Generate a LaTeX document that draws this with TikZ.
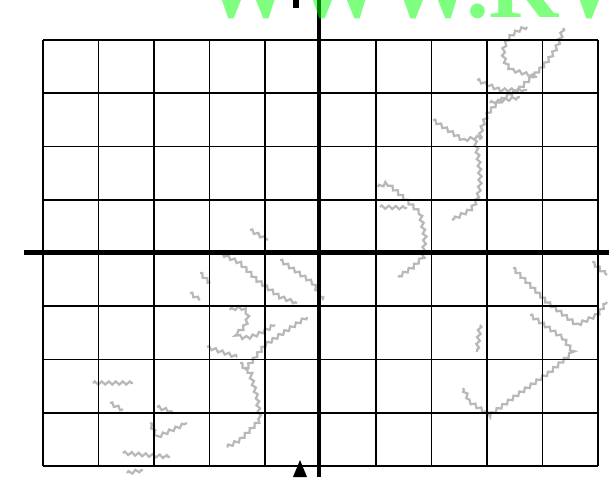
\documentclass[tikz,border=0pt]{standalone}
\usepackage{fontspec}
\newfontfamily\wmfont{Liberation Serif}
\usetikzlibrary{decorations.pathmorphing}
\tikzset{
  gridline/.style={line width=1.8pt, black},
  axisline/.style={line width=4.5pt, black},
  scribble/.style={draw=black!28, line width=2.2pt, line cap=butt,
    decorate, decoration={zigzag, amplitude=1.6pt, segment length=7pt}},
}
\begin{document}
\begin{tikzpicture}[x=1pt, y=-1pt]
\useasboundingbox (0,0) rectangle (609,477);
\clip (0,0) rectangle (609,477);
\fill[white] (0,0) rectangle (609,477);
% watermark scribbles
\draw[scribble] (527,27) .. controls (500,35) and (498,60) .. (512,70) -- (537,77);
\draw[scribble] (563,28) .. controls (558,55) and (540,70) .. (520,88) .. controls (500,100) and (482,110) .. (480,140);
\draw[scribble] (477,80) -- (500,90) -- (527,90);
\draw[scribble] (490,103) -- (520,97);
\draw[scribble] (433,120) -- (463,140) -- (480,137);
\draw[scribble] (475,140) .. controls (480,165) and (485,195) .. (470,210) -- (452,220);
\draw[scribble] (378,187) -- (387,183) -- (403,197) -- (420,213) -- (425,237) -- (423,257) -- (413,267) -- (398,277);
\draw[scribble] (380,207) -- (407,208);
\draw[scribble] (250,230) -- (268,240);
\draw[scribble] (220,253) -- (240,263) -- (257,280) -- (280,297) -- (297,303);
\draw[scribble] (280,260) -- (313,283) -- (323,300);
\draw[scribble] (200,273) -- (210,283);
\draw[scribble] (190,293) -- (200,300);
\draw[scribble] (230,310) .. controls (255,300) and (250,330) .. (235,333) .. controls (245,345) and (265,330) .. (275,325);
\draw[scribble] (307,317) -- (265,345) -- (245,370);
\draw[scribble] (207,347) -- (237,357);
\draw[scribble] (240,363) -- (250,373) -- (257,397) -- (260,420) -- (240,440) -- (227,447);
\draw[scribble] (93,383) -- (133,383);
\draw[scribble] (110,403) -- (123,410);
\draw[scribble] (157,407) -- (173,412);
\draw[scribble] (150,423) -- (157,437) -- (187,423);
\draw[scribble] (123,453) -- (170,457);
\draw[scribble] (127,473) -- (143,470);
\draw[scribble] (513,268) -- (547,302) -- (577,325) -- (597,315) -- (607,302);
\draw[scribble] (530,315) -- (563,338) -- (573,352) -- (550,372) -- (517,395) -- (490,415) -- (470,402) -- (463,388);
\draw[scribble] (480,325) -- (477,352);
\draw[scribble] (592,262) -- (607,275);
% grid
\foreach \i in {0,...,10} {
  \draw[gridline] ({43+55.5*\i},40) -- ({43+55.5*\i},466);
}
\foreach \j in {0,...,8} {
  \draw[gridline] (43,{40+53.25*\j}) -- (598,{40+53.25*\j});
}
% axes
\draw[axisline] (24,252.5) -- (609,252.5);
\draw[axisline] (319,0) -- (319,477);
% bottom arrowhead and top tick
\fill[black] (300,460) -- (307,477) -- (293,477) -- cycle;
\fill[black] (293,0) rectangle (299,8);
% watermark text
\node[anchor=base west, inner sep=0pt, text=green, text opacity=0.5, font=\wmfont\bfseries\fontsize{91}{91}\selectfont] (wm) at (202,17) {WWW.KW};
\end{tikzpicture}
\end{document}
